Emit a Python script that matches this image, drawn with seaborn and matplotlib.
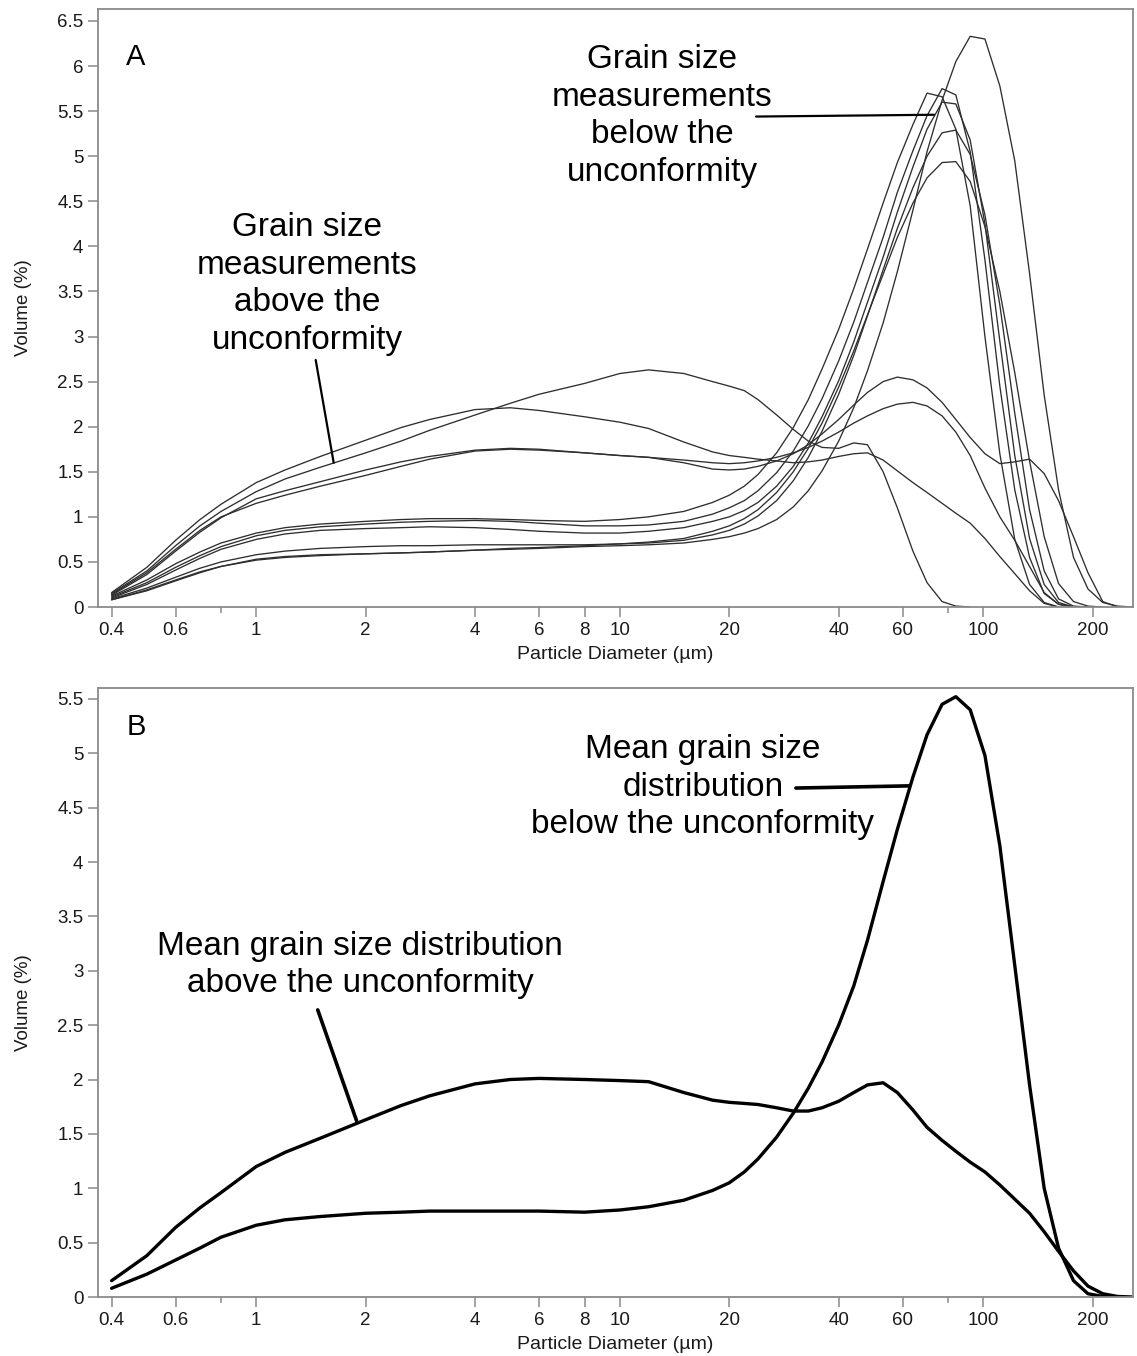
import numpy as np
import pandas as pd
import matplotlib
matplotlib.use("Agg")
import matplotlib.pyplot as plt
from matplotlib.ticker import FixedLocator, NullFormatter
import seaborn as sns

NA = np.nan

# ---------------- data ----------------
diameter = [0.4, 0.5, 0.6, 0.7, 0.8, 1.0, 1.2, 1.5, 2, 2.5, 3, 4, 5, 6, 8, 10, 12, 15, 18,
            20, 22, 24, 27, 30, 33, 36, 40, 44, 48, 53, 58, 64, 70, 77, 84, 92, 101, 111,
            122, 134, 147, 161, 177, 194, 213, 234, 257]

# Panel A - samples above the unconformity
above_1 = [0.15, 0.40, 0.68, 0.90, 1.06, 1.28, 1.42, 1.55, 1.71, 1.84, 1.96, 2.13, 2.26, 2.36, 2.48, 2.59, 2.63, 2.59, 2.50,
           2.45, 2.40, 2.30, 2.13, 1.97, 1.84, 1.77, 1.76, 1.82, 1.80, 1.50, 1.10, 0.62, 0.27, 0.06, 0.01, 0, NA, NA,
           NA, NA, NA, NA, NA, NA, NA, NA, NA]
above_2 = [0.16, 0.44, 0.74, 0.97, 1.14, 1.38, 1.52, 1.67, 1.85, 1.99, 2.08, 2.19, 2.21, 2.18, 2.11, 2.05, 1.98, 1.83, 1.72,
           1.68, 1.66, 1.64, 1.62, 1.60, 1.61, 1.63, 1.67, 1.70, 1.71, 1.63, 1.51, 1.38, 1.27, 1.15, 1.04, 0.93, 0.76, 0.56,
           0.37, 0.18, 0.04, 0, NA, NA, NA, NA, NA]
above_3 = [0.13, 0.36, 0.62, 0.83, 0.99, 1.20, 1.29, 1.39, 1.52, 1.61, 1.67, 1.74, 1.76, 1.75, 1.71, 1.68, 1.66, 1.60, 1.53,
           1.52, 1.53, 1.56, 1.62, 1.70, 1.80, 1.92, 2.08, 2.24, 2.38, 2.50, 2.55, 2.52, 2.43, 2.27, 2.08, 1.88, 1.70, 1.59,
           1.61, 1.64, 1.48, 1.18, 0.78, 0.38, 0.06, 0, NA]
above_4 = [0.14, 0.38, 0.64, 0.85, 1.00, 1.15, 1.24, 1.34, 1.46, 1.56, 1.64, 1.73, 1.75, 1.74, 1.71, 1.68, 1.66, 1.63, 1.60,
           1.59, 1.60, 1.62, 1.66, 1.71, 1.77, 1.84, 1.94, 2.04, 2.12, 2.20, 2.25, 2.27, 2.23, 2.12, 1.94, 1.68, 1.32, 1.00,
           0.74, 0.45, 0.16, 0.03, 0, NA, NA, NA, NA]

# Panel A - samples below the unconformity
below_1 = [0.12, 0.30, 0.48, 0.61, 0.71, 0.82, 0.88, 0.92, 0.95, 0.97, 0.98, 0.98, 0.97, 0.96, 0.95, 0.97, 1.00, 1.06, 1.16,
           1.24, 1.34, 1.47, 1.71, 1.99, 2.30, 2.64, 3.08, 3.53, 3.97, 4.48, 4.93, 5.35, 5.70, 5.66, 5.30, 4.45, 3.00, 1.70,
           0.75, 0.25, 0.05, 0, NA, NA, NA, NA, NA]
below_2 = [0.11, 0.27, 0.44, 0.57, 0.67, 0.79, 0.85, 0.89, 0.92, 0.94, 0.95, 0.96, 0.95, 0.93, 0.90, 0.90, 0.91, 0.95, 1.03,
           1.10, 1.18, 1.29, 1.49, 1.73, 2.01, 2.31, 2.73, 3.16, 3.60, 4.10, 4.60, 5.06, 5.45, 5.75, 5.68, 5.05, 3.85, 2.45,
           1.30, 0.55, 0.15, 0.03, 0, NA, NA, NA, NA]
below_3 = [0.10, 0.25, 0.41, 0.54, 0.64, 0.75, 0.81, 0.85, 0.87, 0.88, 0.89, 0.88, 0.86, 0.84, 0.82, 0.82, 0.84, 0.88, 0.95,
           1.00, 1.07, 1.16, 1.34, 1.56, 1.82, 2.11, 2.51, 2.94, 3.38, 3.88, 4.38, 4.88, 5.30, 5.60, 5.58, 5.18, 4.25, 2.95,
           1.68, 0.76, 0.25, 0.05, 0, NA, NA, NA, NA]
below_4 = [0.09, 0.21, 0.33, 0.43, 0.50, 0.58, 0.62, 0.65, 0.67, 0.68, 0.68, 0.69, 0.69, 0.69, 0.69, 0.70, 0.71, 0.74, 0.80,
           0.85, 0.92, 1.01, 1.18, 1.40, 1.66, 1.95, 2.36, 2.79, 3.23, 3.74, 4.20, 4.65, 5.00, 5.26, 5.29, 5.02, 4.35, 3.35,
           2.15, 1.08, 0.40, 0.09, 0.01, 0, NA, NA, NA]
below_5 = [0.08, 0.19, 0.30, 0.39, 0.45, 0.53, 0.56, 0.58, 0.59, 0.60, 0.61, 0.63, 0.65, 0.66, 0.68, 0.70, 0.72, 0.76, 0.84,
           0.90, 0.98, 1.08, 1.27, 1.50, 1.76, 2.04, 2.44, 2.84, 3.24, 3.69, 4.10, 4.48, 4.76, 4.93, 4.94, 4.72, 4.22, 3.50,
           2.60, 1.62, 0.78, 0.26, 0.06, 0.01, 0, NA, NA]
below_6 = [0.08, 0.18, 0.29, 0.38, 0.45, 0.52, 0.55, 0.57, 0.59, 0.60, 0.61, 0.63, 0.64, 0.65, 0.67, 0.68, 0.69, 0.71, 0.75,
           0.78, 0.82, 0.87, 0.97, 1.11, 1.29, 1.51, 1.84, 2.21, 2.62, 3.15, 3.72, 4.40, 5.05, 5.62, 6.05, 6.33, 6.30, 5.78,
           4.95, 3.70, 2.35, 1.30, 0.55, 0.20, 0.05, 0.01, 0]

# Panel B - mean distributions
mean_above = [0.15, 0.38, 0.64, 0.82, 0.96, 1.20, 1.33, 1.46, 1.63, 1.76, 1.85, 1.96, 2.00, 2.01, 2.00, 1.99, 1.98, 1.88, 1.81,
              1.79, 1.78, 1.77, 1.74, 1.71, 1.71, 1.74, 1.80, 1.88, 1.95, 1.97, 1.88, 1.72, 1.56, 1.44, 1.34, 1.24, 1.15, 1.03,
              0.90, 0.77, 0.60, 0.42, 0.24, 0.10, 0.03, 0.005, 0]
mean_below = [0.08, 0.21, 0.34, 0.45, 0.55, 0.66, 0.71, 0.74, 0.77, 0.78, 0.79, 0.79, 0.79, 0.79, 0.78, 0.80, 0.83, 0.89, 0.98,
              1.05, 1.15, 1.27, 1.47, 1.69, 1.92, 2.16, 2.50, 2.86, 3.28, 3.82, 4.30, 4.78, 5.17, 5.45, 5.52, 5.40, 4.98, 4.15,
              3.05, 1.95, 1.00, 0.45, 0.15, 0.03, 0.005, 0, NA]

x_ticks = [0.4, 0.6, 1, 2, 4, 6, 8, 10, 20, 40, 60, 100, 200]
x_tick_labels = ["0.4", "0.6", "1", "2", "4", "6", "8", "10", "20", "40", "60", "100", "200"]
x_minor_ticks = [0.8, 80]
yA_ticks = [0, 0.5, 1, 1.5, 2, 2.5, 3, 3.5, 4, 4.5, 5, 5.5, 6, 6.5]
yA_labels = ["0", "0.5", "1", "1.5", "2", "2.5", "3", "3.5", "4", "4.5", "5", "5.5", "6", "6.5"]
yB_ticks = yA_ticks[:-2]
yB_labels = yA_labels[:-2]

panel_a = {"above 1": above_1, "above 2": above_2, "above 3": above_3, "above 4": above_4,
           "below 1": below_1, "below 2": below_2, "below 3": below_3, "below 4": below_4,
           "below 5": below_5, "below 6": below_6}
panel_b = {"mean above": mean_above, "mean below": mean_below}


def long_frame(curves):
    rows = []
    for name, vals in curves.items():
        for d, v in zip(diameter, vals):
            rows.append({"d": d, "v": v, "sample": name})
    return pd.DataFrame(rows).dropna()


dfA = long_frame(panel_a)
dfB = long_frame(panel_b)

# ---------------- style ----------------
sns.set_style("ticks")
plt.rcParams["font.family"] = ["Liberation Sans", "DejaVu Sans"]

W, H = 1137, 1356
fig = plt.figure(figsize=(W / 100, H / 100), dpi=100)


def fx(px):
    return px / W


def fy(py):
    return 1 - py / H


axA = fig.add_axes([fx(98), fy(607), (1133 - 98) / W, (607 - 9) / H])
axB = fig.add_axes([fx(98), fy(1297), (1133 - 98) / W, (1297 - 688) / H])

sns.lineplot(data=dfA, x="d", y="v", units="sample", estimator=None, color="#2e2e2e",
             linewidth=0.95, ax=axA, legend=False)
sns.lineplot(data=dfB, x="d", y="v", units="sample", estimator=None, color="black",
             linewidth=2.4, ax=axB, legend=False)

spine_col = "#8a8a8a"
for ax, ytk, ylb, ytop, ylab_y in [(axA, yA_ticks, yA_labels, 6.633, 0.5),
                                   (axB, yB_ticks, yB_labels, 5.6, 0.483)]:
    ax.set_xscale("log")
    ax.set_xlim(0.367, 258)
    ax.set_ylim(0, ytop)
    ax.xaxis.set_major_locator(FixedLocator(x_ticks))
    ax.set_xticklabels(x_tick_labels)
    ax.xaxis.set_minor_locator(FixedLocator(x_minor_ticks))
    ax.xaxis.set_minor_formatter(NullFormatter())
    ax.set_yticks(ytk)
    ax.set_yticklabels(ylb)
    for s in ax.spines.values():
        s.set_visible(True)
        s.set_color(spine_col)
        s.set_linewidth(1.3)
    ax.tick_params(axis="both", which="major", direction="out", length=7.5, width=1.1,
                   color=spine_col, labelsize=13.5, labelcolor="#1a1a1a", pad=3)
    ax.tick_params(axis="x", which="minor", direction="out", length=4, width=1.1, color=spine_col)
    ax.set_xlabel("Particle Diameter (µm)", fontsize=14, color="#1a1a1a", labelpad=5)
    ax.set_ylabel("Volume (%)", fontsize=13.5, color="#1a1a1a")
    ax.yaxis.set_label_coords(-0.064, ylab_y)
    ax.set_facecolor("white")

# ---------------- annotations ----------------
big = 24
ls = 1.27
txt = dict(ha="center", va="center", color="black")
fig.text(fx(136), fy(57), "A", fontsize=21, **txt)
fig.text(fx(662), fy(116), "Grain size\nmeasurements\nbelow the\nunconformity", fontsize=big,
         linespacing=ls, **txt)
fig.text(fx(307), fy(284), "Grain size\nmeasurements\nabove the\nunconformity", fontsize=big,
         linespacing=ls, **txt)
fig.text(fx(136), fy(727), "B", fontsize=21, **txt)
fig.text(fx(703), fy(787), "Mean grain size\ndistribution\nbelow the unconformity", fontsize=big,
         linespacing=ls, **txt)
fig.text(fx(360), fy(965), "Mean grain size distribution\nabove the unconformity", fontsize=big,
         linespacing=ls, **txt)

arrow_thin = dict(arrowstyle="-", lw=1.6, color="black", shrinkA=0, shrinkB=0)
arrow_thick = dict(arrowstyle="-", lw=2.6, color="black", shrinkA=0, shrinkB=0)
axA.annotate("", xy=(73.1, 5.46), xytext=(23.7, 5.44), arrowprops=arrow_thin)
axA.annotate("", xy=(1.633, 1.60), xytext=(1.457, 2.74), arrowprops=arrow_thin)
axB.annotate("", xy=(1.888, 1.62), xytext=(1.476, 2.64), arrowprops=arrow_thick)
axB.annotate("", xy=(62.4, 4.70), xytext=(30.5, 4.68), arrowprops=arrow_thick)

fig.savefig("out.png", dpi=100, facecolor="white")
